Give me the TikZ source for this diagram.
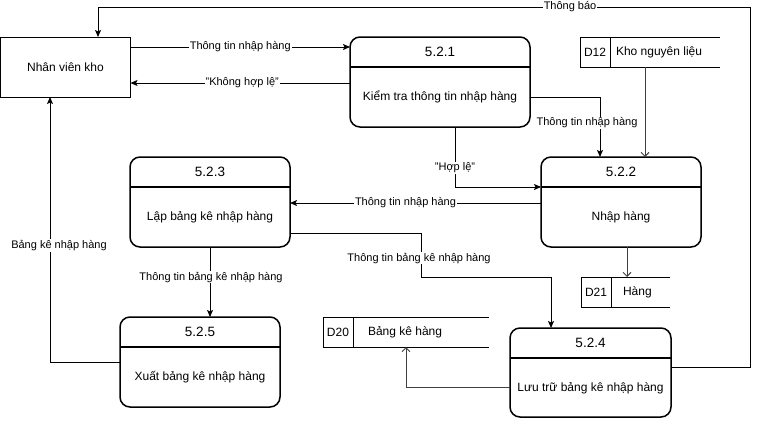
\documentclass[tikz,border=0pt]{standalone}
\usepackage{fontspec}
\setmainfont{Liberation Sans}
\usetikzlibrary{arrows.meta}
\begin{document}
\begin{tikzpicture}[x=1pt,y=-1pt,
  every node/.style={inner sep=0pt, outer sep=0pt},
  proc/.style={draw, line width=1.5pt, rounded corners=10pt, anchor=north west, minimum width=160pt, minimum height=90pt},
  ext/.style={draw, line width=1pt, anchor=north west, minimum width=130pt, minimum height=60pt},
  store/.style={anchor=north west, minimum height=30pt},
  hdr/.style={line width=1.1pt},
  ttl/.style={font=\fontsize{13.5}{15}\selectfont},
  bdy/.style={font=\fontsize{12}{14}\selectfont},
  lbl/.style={fill=white, inner sep=1pt, font=\fontsize{11}{13}\selectfont},
  arr/.style={line width=1pt, -{Stealth[length=7pt,width=6pt,inset=1.5pt]}},
  oarr/.style={line width=1pt, draw=black!75, -{Straight Barb[length=4pt,width=8pt]}}
]
\useasboundingbox (0,0) rectangle (759,426);

% external entity
\node[ext] (nvk) at (0.5,37) {};
\node[bdy] (nvkt) at (nvk.center) {Nhân viên kho};

% processes
\node[proc, minimum width=180pt] (p521) at (350,37) {};
\node[proc] (p522) at (541,157) {};
\node[proc] (p523) at (130,157) {};
\node[proc, minimum width=161pt, minimum height=89pt] (p524) at (510,328) {};
\node[proc] (p525) at (120,317) {};

\foreach \p/\n/\t in {p521/5.2.1/Kiểm tra thông tin nhập hàng,
                      p522/5.2.2/Nhập hàng,
                      p523/5.2.3/Lập bảng kê nhập hàng,
                      p524/5.2.4/Lưu trữ bảng kê nhập hàng,
                      p525/5.2.5/Xuất bảng kê nhập hàng}{
  \draw[hdr] ([yshift=-30pt]\p.north west) -- ([yshift=-30pt]\p.north east);
  \node[ttl] (\p t) at ([yshift=-15pt]\p.north) {\n};
  \node[bdy] (\p b) at ([yshift=-60pt]\p.north) {\t};
}

% data stores
\node[store, minimum width=140pt] (d12) at (580,37) {};
\node[store, minimum width=89pt] (d21) at (581,277) {};
\node[store, minimum width=166pt] (d20) at (323,317) {};
\foreach \d in {d12,d21,d20}{
  \draw[line width=1pt] (\d.north east) -- (\d.north west) -- (\d.south west) -- (\d.south east);
  \draw[line width=1pt] ([xshift=30pt]\d.north west) -- ([xshift=30pt]\d.south west);
}
\node[bdy] (d12a) at ([xshift=15pt]d12.west) {D12};
\node[bdy, anchor=west] (d12b) at ([xshift=36pt]d12.west) {Kho nguyên liệu};
\node[bdy] (d21a) at ([xshift=15pt]d21.west) {D21};
\node[bdy, anchor=west] (d21b) at ([xshift=42pt]d21.west) {Hàng};
\node[bdy] (d20a) at ([xshift=15pt]d20.west) {D20};
\node[bdy, anchor=west] (d20b) at ([xshift=45pt]d20.west) {Bảng kê hàng};

% flows
\draw[arr] (nvk.east |- 0,47) -- node[lbl]{Thông tin nhập hàng} (p521.west |- 0,47);
\draw[arr] (p521.west |- 0,83) -- node[lbl, xshift=2pt]{"Không hợp lệ"} (nvk.east |- 0,83);
\draw[arr] (p524.east |- 0,367) -- (750,367) -- (750,7) -- node[lbl, pos=0.276]{Thông báo} (98,7) -- (nvk.north -| 98,0);
\draw[arr] (p521.east |- 0,97) -- (600,97) -- node[lbl, pos=0.43, xshift=-13pt]{Thông tin nhập hàng} (p522.north -| 600,0);
\draw[oarr] (d12.south -| 645,0) -- (p522.north -| 645,0);
\draw[arr] (p521.south -| 455,0) -- node[lbl, pos=0.68]{"Hợp lệ"} (455,187) -- (p522.west |- 0,187);
\draw[arr] (p522.west |- 0,203) -- node[lbl, pos=0.54]{Thông tin nhập hàng} (p523.east |- 0,203);
\draw[arr] (p523.east |- 0,233) -- (421,233) -- node[lbl, pos=0.57, xshift=-2pt]{Thông tin bảng kê nhập hàng} (421,277) -- (551,277) -- (p524.north -| 551,0);
\draw[arr] (p523.south -| 210,0) -- node[lbl, pos=0.43, xshift=1pt]{Thông tin bảng kê nhập hàng} (p525.north -| 210,0);
\draw[arr] (p525.west |- 0,362) -- (50,362) -- node[lbl, pos=0.44, xshift=9pt]{Bảng kê nhập hàng} (nvk.south -| 50,0);
\draw[oarr] (p522.south -| 627,0) -- (d21.north -| 627,0);
\draw[oarr] (p524.west |- 0,387) -- (406,387) -- (d20.south -| 406,0);
\end{tikzpicture}
\end{document}
